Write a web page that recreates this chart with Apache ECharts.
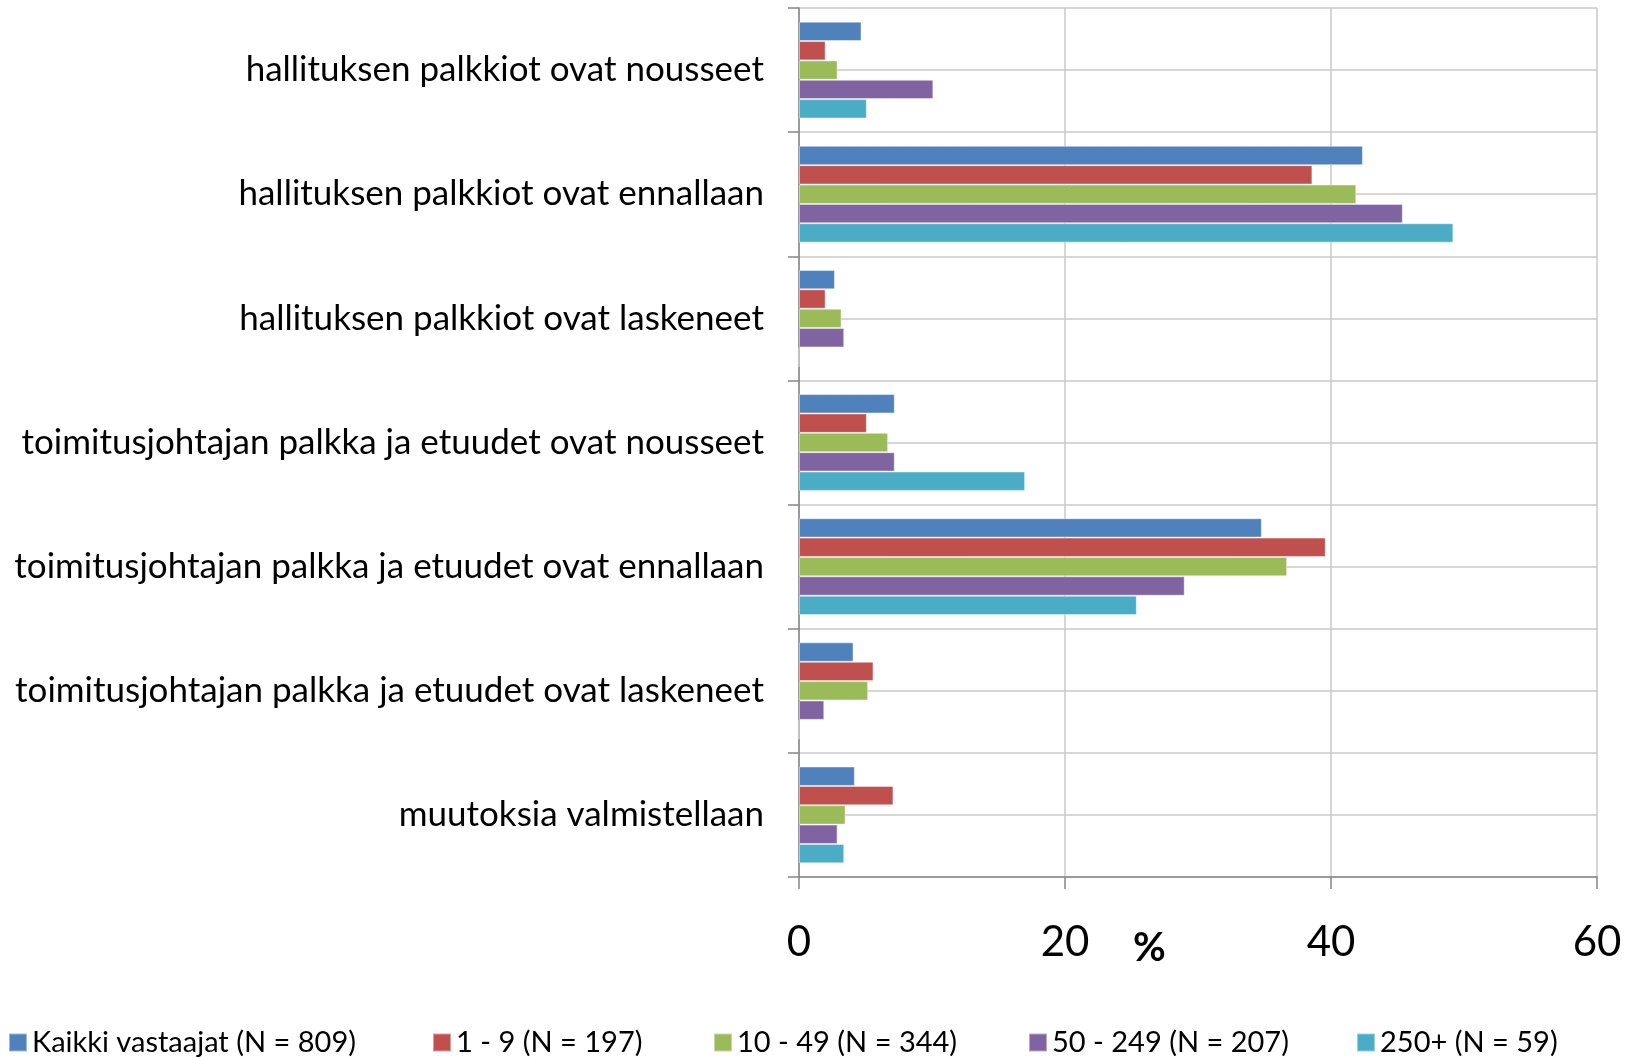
<!DOCTYPE html>
<html>
<head>
<meta charset="utf-8">
<script src="https://cdn.jsdelivr.net/npm/echarts@6/dist/echarts.min.js"></script>
<style>
  html, body { margin: 0; padding: 0; background: #fff; }
  #chart { width: 1641px; height: 1057px; }
</style>
</head>
<body>
<div id="chart"></div>
<script>
// kysymysvaihtoehdot (ylhäältä alas)
var categories = [
  "hallituksen palkkiot ovat nousseet",
  "hallituksen palkkiot ovat ennallaan",
  "hallituksen palkkiot ovat laskeneet",
  "toimitusjohtajan palkka ja etuudet ovat nousseet",
  "toimitusjohtajan palkka ja etuudet ovat ennallaan",
  "toimitusjohtajan palkka ja etuudet ovat laskeneet",
  "muutoksia valmistellaan"
];

var seriesNames = [
  "Kaikki vastaajat (N = 809)",
  "1 - 9 (N = 197)",
  "10 - 49 (N = 344)",
  "50 - 249 (N = 207)",
  "250+ (N = 59)"
];

var kaikki = [4.7, 42.4, 2.7, 7.2, 34.8, 4.1, 4.2];
var koko1_9 = [2.0, 38.6, 2.0, 5.1, 39.6, 5.6, 7.1];
var koko10_49 = [2.9, 41.9, 3.2, 6.7, 36.7, 5.2, 3.5];
var koko50_249 = [10.1, 45.4, 3.4, 7.2, 29.0, 1.9, 2.9];
var koko250 = [5.1, 49.2, 0, 17.0, 25.4, 0, 3.4];

var xTicks = [0, 20, 40, 60];

var colors = ["#4F81BD", "#C0504D", "#9BBB59", "#8064A2", "#4BACC6"];
var legendLeft = [8, 432, 713, 1028, 1356];

var chart = echarts.init(document.getElementById("chart"));

var values = [kaikki, koko1_9, koko10_49, koko50_249, koko250];
var series = values.map(function (data, i) {
  return {
    name: seriesNames[i],
    type: "bar",
    data: data,
    barGap: "0%",
    barCategoryGap: "22%",
    itemStyle: {
      color: colors[i],
      borderColor: "rgba(255,255,255,0.45)",
      borderWidth: 1
    }
  };
});

// yksi legenda per sarja, jotta välit osuvat kohdalleen
var legends = seriesNames.map(function (name, i) {
  return {
    data: [name],
    left: legendLeft[i],
    top: 1028,
    padding: 0,
    icon: "rect",
    itemWidth: 18,
    itemHeight: 18,
    itemGap: 0,
    textStyle: { fontFamily: "Lato", fontSize: 29, color: "#000" }
  };
});

chart.setOption({
  backgroundColor: "#fff",
  animation: false,
  color: colors,
  textStyle: { fontFamily: "Lato" },
  legend: legends,
  grid: {
    left: 799,
    right: 44,
    top: 8,
    bottom: 180
  },
  xAxis: {
    type: "value",
    min: xTicks[0],
    max: xTicks[xTicks.length - 1],
    interval: 20,
    axisLine: { show: true, lineStyle: { color: "#868686", width: 1.5 } },
    axisTick: { show: true, length: 12, lineStyle: { color: "#868686", width: 1.5 } },
    axisLabel: { margin: 44, fontSize: 42, color: "#000", fontFamily: "Lato" },
    splitLine: { show: true, lineStyle: { color: "#C8C8C8", width: 1.5 } }
  },
  yAxis: [
    {
      type: "category",
      data: categories,
      inverse: true,
      axisLine: { show: true, lineStyle: { color: "#868686", width: 1.5 } },
      axisTick: { show: true, length: 11, lineStyle: { color: "#868686", width: 1.5 } },
      axisLabel: { margin: 35, fontSize: 35, color: "#000", fontFamily: "Lato" },
      splitLine: { show: false }
    },
    {
      // apuakseli vaakaviivoille puolen kategorian välein
      type: "value",
      position: "right",
      min: 0,
      max: categories.length * 2,
      interval: 1,
      axisLine: { show: false },
      axisTick: { show: false },
      axisLabel: { show: false },
      splitLine: { show: true, lineStyle: { color: "#C8C8C8", width: 1.5 } }
    }
  ],
  graphic: [
    {
      type: "text",
      left: 1133,
      top: 928,
      style: { text: "%", fontSize: 40, fontWeight: "bold", fill: "#000", fontFamily: "Lato" }
    }
  ],
  series: series
});
</script>
</body>
</html>
